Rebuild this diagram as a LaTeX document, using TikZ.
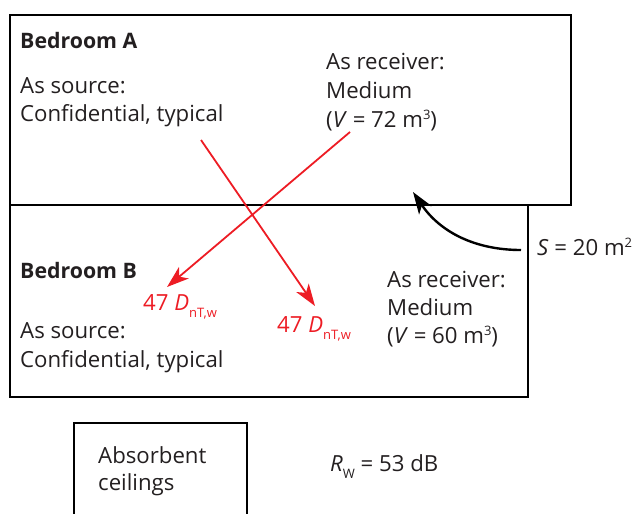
\documentclass[tikz,border=0pt]{standalone}
\usepackage{fontspec}
\setmainfont{Open Sans}
\usetikzlibrary{arrows.meta}
\definecolor{redarr}{RGB}{237,28,36}
\definecolor{txt}{RGB}{35,31,32}
\newcommand{\subsm}[1]{\raisebox{-7pt}{\fontsize{13}{13}\selectfont #1}}
\newcommand{\supsm}[1]{\raisebox{8pt}{\fontsize{13}{13}\selectfont #1}}
\tikzset{
  room/.style={draw=black, line width=2pt},
  lbl/.style={anchor=base west, inner sep=0pt, text=txt, font=\fontsize{22.2}{22.2}\selectfont},
  bold/.style={lbl, font=\fontsize{21.3}{21.3}\selectfont\bfseries},
  redlbl/.style={lbl, text=redarr},
  redarrow/.style={draw=redarr, line width=1.8pt, -{Stealth[length=22pt,width=15pt,inset=6pt]}},
  blackarrow/.style={draw=black, line width=2.4pt, -{Stealth[length=22pt,width=15pt,inset=6pt]}}
}
\begin{document}
\begin{tikzpicture}[x=1pt,y=-1pt]
\useasboundingbox (0,0) rectangle (640,514);
% rooms
\draw[room] (10,205) rectangle (528,397);
\draw[room] (10,15) rectangle (571,205);
\draw[room] (74,540) -- (74,423) -- (247,423) -- (247,540);
% Bedroom A
\node[bold] (bA) at (20,48) {Bedroom A};
\node[lbl] (aS1) at (20,93) {As source:};
\node[lbl] (aS2) at (20,121) {Confidential, typical};
\node[lbl] (aR1) at (326,69) {As receiver:};
\node[lbl] (aR2) at (326,98) {Medium};
\node[lbl] (aR3) at (326,127) {(\textit{V} = 72 m\supsm{3})};
% Bedroom B
\node[bold] (bB) at (20,278) {Bedroom B};
\node[lbl] (bS1) at (20,338) {As source:};
\node[lbl] (bS2) at (20,367) {Confidential, typical};
\node[lbl] (bR1) at (387,287) {As receiver:};
\node[lbl] (bR2) at (387,315) {Medium};
\node[lbl] (bR3) at (387,343) {(\textit{V} = 60 m\supsm{3})};
% D labels
\node[redlbl] (d1) at (143,310) {47 \textit{D}\subsm{nT,w}};
\node[redlbl] (d2) at (277,332) {47 \textit{D}\subsm{nT,w}};
% S label
\node[lbl] (s) at (537,255) {\textit{S} = 20 m\supsm{2}};
% bottom
\node[lbl] (ab1) at (98,463) {Absorbent};
\node[lbl] (ab2) at (98,490) {ceilings};
\node[lbl] (rw) at (330,471) {\textit{R}\subsm{W} = 53 dB};
% arrows
\coordinate (r1s) at (201,140);
\coordinate (r1e) at (315,306);
\coordinate (r2s) at (350,132);
\coordinate (r2e) at (167,287);
\coordinate (cs) at (521,250);
\coordinate (ce) at (413,192);
\draw[redarrow] (r1s) -- (r1e);
\draw[redarrow] (r2s) -- (r2e);
\draw[blackarrow] (cs) .. controls (475,250) and (440,232) .. (ce);
\end{tikzpicture}
\end{document}
